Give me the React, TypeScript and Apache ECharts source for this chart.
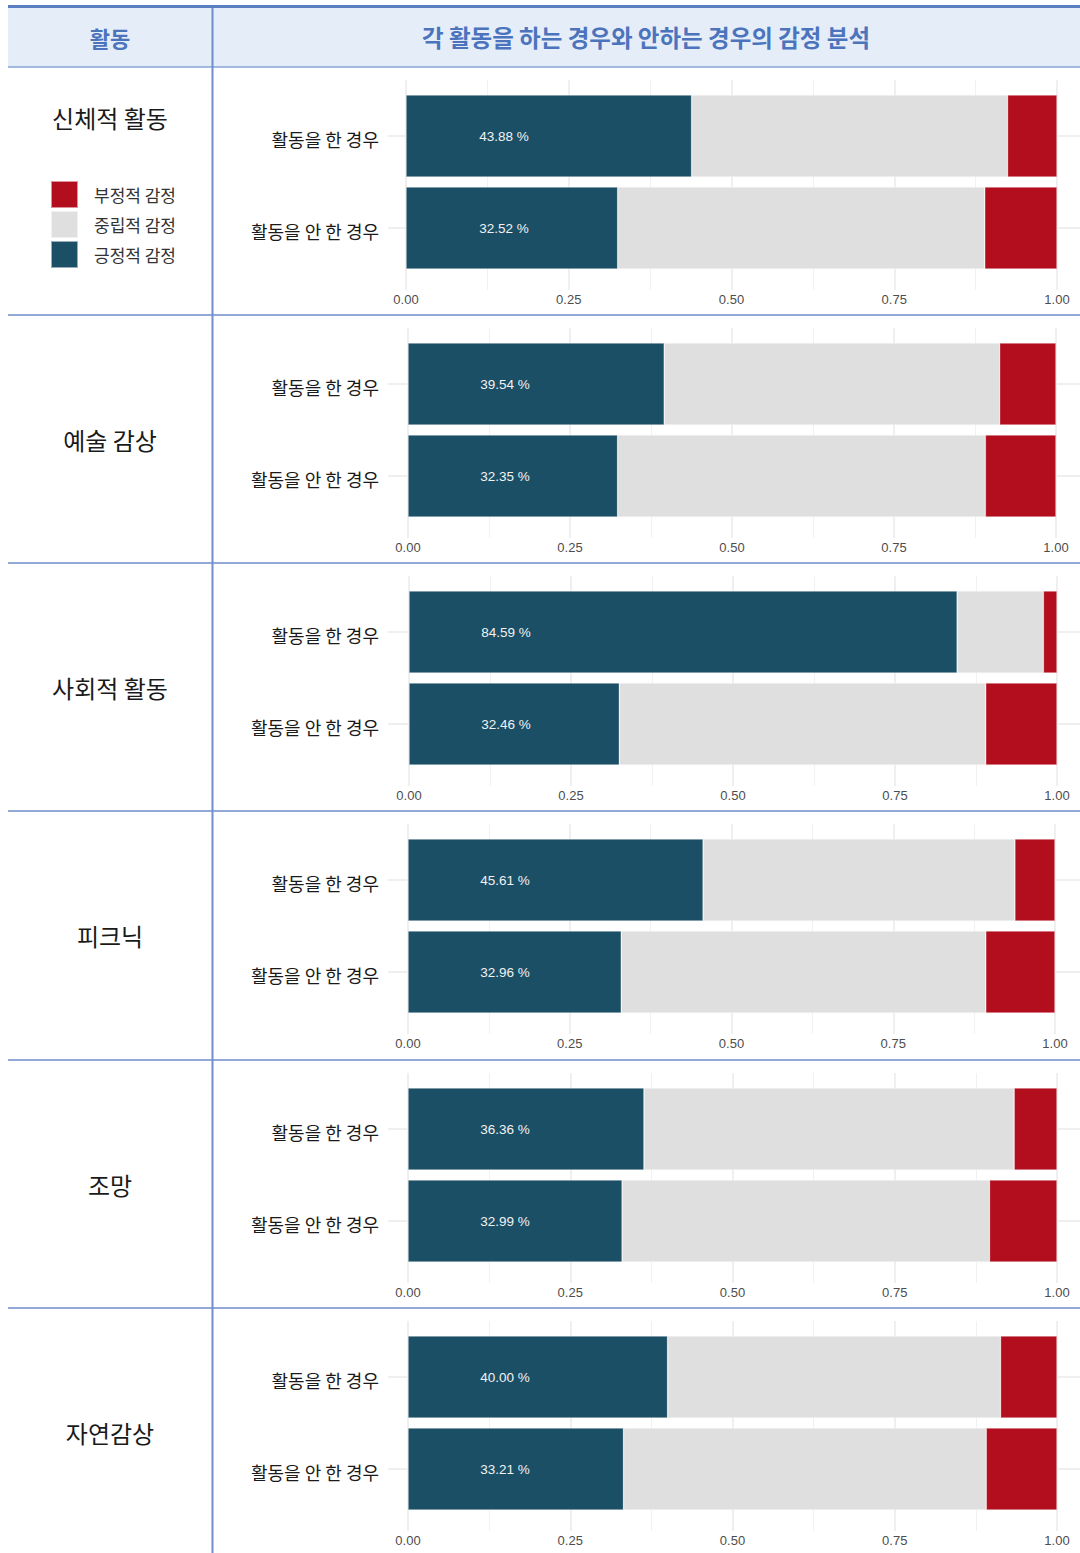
import React, { useEffect, useRef } from "react";
import * as echarts from "echarts";

const activities = ["신체적 활동", "예술 감상", "사회적 활동", "피크닉", "조망", "자연감상"];
const cases = ["활동을 한 경우", "활동을 안 한 경우"];
const seriesNames = ["긍정적 감정", "중립적 감정", "부정적 감정"];
const legendOrder = ["부정적 감정", "중립적 감정", "긍정적 감정"];
const positive = [
  [0.4388, 0.3252],
  [0.3954, 0.3235],
  [0.8459, 0.3246],
  [0.4561, 0.3296],
  [0.3636, 0.3299],
  [0.4, 0.3321],
];
const neutral = [
  [0.4852, 0.5638],
  [0.5176, 0.5675],
  [0.1331, 0.5654],
  [0.4819, 0.5634],
  [0.5704, 0.5661],
  [0.513, 0.5589],
];
const negative = [
  [0.076, 0.111],
  [0.087, 0.109],
  [0.021, 0.11],
  [0.062, 0.107],
  [0.066, 0.104],
  [0.087, 0.109],
];
const xTickLabels = ["0.00", "0.25", "0.50", "0.75", "1.00"];
const headerLeft = "활동";
const headerTitle = "각 활동을 하는 경우와 안하는 경우의 감정 분석";

// layout
const W = 1080;
const H = 1553;
const ROW_TOPS = [67, 315, 563, 811, 1060, 1308];
const AXIS_LEFT = [406, 408, 409, 408, 408, 408];
const AXIS_RIGHT = [1057, 1056, 1057, 1055, 1057, 1057];
const NAME_Y = [117, 439, 687, 935, 1184, 1432];
const COLORS = ["#1b4f66", "#dfdfdf", "#b30e1e"];
const LINE_BLUE = "#6f8ecb";
const KR = "'Noto Sans CJK KR', 'Noto Sans', sans-serif";
const LAT = "'Liberation Sans', Arial, sans-serif";

function buildOption() {
  const grid: any[] = [];
  const xAxis: any[] = [];
  const yAxis: any[] = [];
  const series: any[] = [];
  const graphic: any[] = [];

  graphic.push({
    type: "rect",
    shape: { x: 8, y: 7, width: W - 8, height: 60 },
    style: { fill: "#e5edf8" },
    z: -1,
  });

  activities.forEach((act, i) => {
    const T = ROW_TOPS[i];
    const L = AXIS_LEFT[i];
    const R = AXIS_RIGHT[i];
    const width = R - L;
    grid.push({ left: L, width, top: T + 23, height: 184 });
    grid.push({ left: L, width, top: T + 13, height: 210 });
    const gb = 2 * i;
    const gg = 2 * i + 1;
    xAxis.push({ gridIndex: gb, type: "value", min: 0, max: 1, show: false });
    xAxis.push({
      gridIndex: gg,
      type: "value",
      min: 0,
      max: 1,
      interval: 0.25,
      axisLine: { show: false },
      axisTick: { show: false },
      axisLabel: {
        margin: 3,
        fontSize: 13,
        color: "#4d4d4d",
        fontFamily: LAT,
        formatter: (v: number) => xTickLabels[Math.round(v * 4)] ?? "",
      },
      splitLine: { show: true, lineStyle: { color: "#ebebeb", width: 1.6 } },
      minorTick: { show: false, splitNumber: 2 },
      minorSplitLine: { show: true, lineStyle: { color: "#f1f1f1", width: 1 } },
    });
    yAxis.push({
      gridIndex: gb,
      type: "category",
      data: cases,
      inverse: true,
      axisLine: { show: false },
      axisTick: {
        show: true,
        alignWithLabel: true,
        length: L - 388,
        lineStyle: { color: "#ebebeb", width: 1.6 },
      },
      axisLabel: {
        margin: L - 379,
        fontSize: 18,
        color: "#1a1a1a",
        fontFamily: KR,
        formatter: (v: string) => "{a|" + v + "}",
        rich: {
          a: {
            fontSize: 18,
            color: "#1a1a1a",
            fontFamily: KR,
            padding: [6, 0, 0, 0],
          },
        },
      },
      splitLine: { show: false },
    });
    yAxis.push({
      gridIndex: gb,
      type: "category",
      data: cases,
      inverse: true,
      position: "right",
      axisLine: { show: false },
      axisTick: {
        show: true,
        alignWithLabel: true,
        length: W - R,
        lineStyle: { color: "#ebebeb", width: 1.6 },
      },
      axisLabel: { show: false },
      splitLine: { show: false },
    });
    yAxis.push({ gridIndex: gg, type: "value", min: 0, max: 1, show: false });
    const yLeftIdx = 3 * i;
    const dataSets = [positive[i], neutral[i], negative[i]];
    seriesNames.forEach((name, k) => {
      series.push({
        type: "bar",
        name,
        xAxisIndex: gb,
        yAxisIndex: yLeftIdx,
        stack: "s" + i,
        barWidth: 82,
        data: dataSets[k],
        itemStyle: {
          color: COLORS[k],
          borderColor: "rgba(255,255,255,0.55)",
          borderWidth: 0.6,
        },
        z: 3,
        label:
          k === 0
            ? {
                show: true,
                position: [Math.round(0.15 * width), "50%"],
                align: "center",
                verticalAlign: "middle",
                fontSize: 13.5,
                color: "#f2f2f2",
                fontFamily: LAT,
                formatter: (p: any) => (p.value * 100).toFixed(2) + " %",
              }
            : { show: false },
      });
    });

    graphic.push({
      type: "text",
      style: {
        text: act,
        x: 110,
        y: NAME_Y[i],
        align: "center",
        verticalAlign: "middle",
        fontSize: 24,
        fill: "#1a1a1a",
        fontFamily: KR,
      },
    });
    if (i > 0) {
      graphic.push({
        type: "line",
        shape: { x1: 8, y1: T, x2: W, y2: T },
        style: { stroke: LINE_BLUE, lineWidth: 1.5 },
      });
    }
  });

  graphic.push({
    type: "line",
    shape: { x1: 8, y1: 6.5, x2: W, y2: 6.5 },
    style: { stroke: "#5b7ec2", lineWidth: 3 },
  });
  graphic.push({
    type: "line",
    shape: { x1: 8, y1: 67, x2: W, y2: 67 },
    style: { stroke: "#86a3d6", lineWidth: 1.5 },
  });
  graphic.push({
    type: "line",
    shape: { x1: 212.5, y1: 8, x2: 212.5, y2: H },
    style: { stroke: LINE_BLUE, lineWidth: 2 },
  });
  graphic.push({
    type: "text",
    style: {
      text: headerLeft,
      x: 110,
      y: 37,
      align: "center",
      verticalAlign: "middle",
      fontSize: 22,
      fontWeight: "bold",
      fill: "#4b74bd",
      fontFamily: KR,
    },
  });
  graphic.push({
    type: "text",
    style: {
      text: headerTitle,
      x: 646,
      y: 37,
      align: "center",
      verticalAlign: "middle",
      fontSize: 23.5,
      fontWeight: "bold",
      fill: "#4b74bd",
      fontFamily: KR,
    },
  });

  return {
    animation: false,
    backgroundColor: "#ffffff",
    legend: {
      orient: "vertical",
      left: 50,
      top: 180,
      padding: 0,
      itemWidth: 27,
      itemHeight: 27,
      itemGap: 1,
      icon: "rect",
      selectedMode: false,
      data: legendOrder,
      textStyle: {
        fontSize: 17,
        color: "#333333",
        fontFamily: KR,
        padding: [0, 0, 0, 11],
      },
    },
    grid,
    xAxis,
    yAxis,
    series,
    graphic,
  };
}

export default function App() {
  const ref = useRef<HTMLDivElement>(null);
  useEffect(() => {
    if (!ref.current) return;
    const chart = echarts.init(ref.current, undefined, { renderer: "svg" });
    chart.setOption(buildOption() as any);
    return () => chart.dispose();
  }, []);
  return (
    <div
      ref={ref}
      style={{ position: "absolute", left: 0, top: 0, width: W, height: H, background: "#fff" }}
    />
  );
}
